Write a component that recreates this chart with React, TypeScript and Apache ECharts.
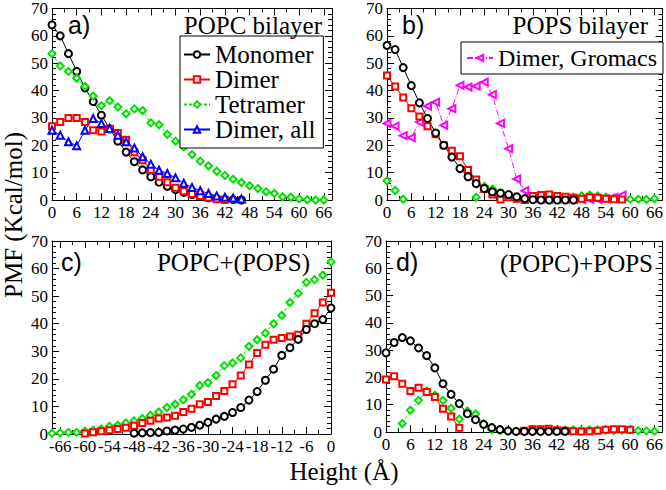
import React, { useEffect, useRef } from "react";
import * as echarts from "echarts";

// ---- data ----
const HEIGHTS = [0, 2, 4, 6, 8, 10, 12, 14, 16, 18, 20, 22, 24, 26, 28, 30, 32, 34, 36, 38, 40, 42, 44, 46, 48, 50, 52, 54, 56, 58, 60, 62, 64, 66, 68];
const C_HEIGHTS = [-68, -66, -64, -62, -60, -58, -56, -54, -52, -50, -48, -46, -44, -42, -40, -38, -36, -34, -32, -30, -28, -26, -24, -22, -20, -18, -16, -14, -12, -10, -8, -6, -4, -2, 0];
const X_TICKS = [0, 6, 12, 18, 24, 30, 36, 42, 48, 54, 60, 66];

// a) POPC bilayer (start at 0 Å)
const aMonomer = [64, 60, 53.5, 47, 41, 36, 31, 26, 21.5, 17.5, 14, 11, 8.5, 6.5, 5, 3.8, 2.8, 2, 1.3, 0.8, 0.5, 0.2, 0.1, 0];
const aDimer = [27, 28.5, 30, 30, 28.5, 25.5, 25, 26, 24.5, 22, 17.5, 14.5, 11, 8.5, 6.5, 4.5, 3.2, 2.2, 1.5, 0.8, 0.3, 0.1];
const aTetramer = [53.5, 49, 47, 44.5, 41.5, 38, 34.5, 36.3, 34, 31.5, 33.3, 32.7, 28.2, 27.5, 24, 21.5, 19.4, 16.6, 14.2, 12.5, 10.5, 9, 7.6, 6.4, 5.2, 4.2, 3, 2.4, 1.2, 1, 0.4, 0.1, 0, 0];
const aDimerAll = [25.5, 23.7, 21.3, 19.8, 25.5, 29.8, 28, 26.1, 23.7, 21.3, 19, 15.8, 13.1, 10.9, 9.7, 8.1, 6.1, 4.6, 3.4, 2.4, 1.5, 1, 0.7, 0.4];

// b) POPS bilayer (start at 0 Å)
const bMonomer = [56.5, 55, 48.4, 41.8, 35.5, 29.8, 24.5, 20, 15.7, 11.5, 8.5, 6, 4.2, 3, 2.5, 2, 1.2, 0.5, 0.1, 0, 0, 0, 0, 0];
const bDimer = [45.5, 41.5, 37.5, 33.5, 30.5, 27, 24, 20, 18, 16, 11, 7.5, 4, 2, 0.2, 1, 0.5, 0, 1.5, 1.8, 2, 1.5, 1.2, 0.8, 0.5, 1, 0.8, 0.5, 0.3, 0.2];
const bTetramer = [7, 3.5, 0.3, null, null, null, null, null, null, null, null, 1, 5, 4, 2.5, 1.5, 0.5, 0.3, 0.2, 0.5, 0.3, 0.2, 0.3, 1, 1.5, 1.8, 1.5, 1, 0.8, 0.5, 0.3, 0.3, 0.2, 0.5];
const bGromacs = [28, 27, 23.5, 22.8, 28.5, 34.3, 35.8, 27.3, 33.4, 41.9, 41.3, 41.6, 43.1, 38.5, 28, 18.8, 7.7, 3.4, 0.5, 0.3, 0.2, 0.2, 0.2, 0.2, 0.2, 0.2, 0.2, 0.5, 1, 1.8];

// c) POPC+(POPS) (all end at 0 Å)
const cMonomer = [0.3, 0.4, 0.5, 0.6, 1.1, 1.4, 1.8, 2.4, 3.2, 4.2, 5.4, 6.4, 7.8, 9.6, 12.3, 15.4, 19.5, 23.5, 28.5, 31.3, 34.3, 37.9, 40, 41.5, 45.7];
const cDimer = [0.2, 0.6, 1, 1.4, 1.8, 2.3, 3, 4, 4.8, 5.6, 6, 6.6, 8, 9.2, 10.8, 11.6, 13.8, 15.6, 18, 21.2, 25.2, 29.4, 32.4, 34.2, 34.8, 35.4, 36, 40, 43.8, 47.7, 51.2];
const cTetramer = [0.3, 0.4, 0.6, 0.6, 1, 1.4, 1.8, 2.8, 3.2, 4, 4.8, 5.6, 6.8, 8, 9.6, 10.8, 12.4, 14.4, 17.6, 18.6, 21.2, 24.8, 25.8, 27.6, 31.8, 34.2, 36.6, 40, 43, 47.7, 51, 55, 56, 57.6, 62.4];

// d) (POPC)+POPS (start at 0 Å)
const dMonomer = [29, 32.8, 34.6, 33.4, 30.8, 28, 23.5, 17.7, 13.8, 10.4, 6.7, 4.5, 2.8, 1.6, 0.9, 0.4, 0.2, 0.2, 0.2, 0.2, 0.2, 0.2, 0.2];
const dDimer = [19.2, 20.4, 17.7, 15, 16.2, 14.7, 12.8, 8.5, 5.7, 1.6, -3, null, null, null, null, null, null, 0.5, 1, 1, 1.2, 0.6, 0.5, 0.3, 0.2, 0.3, 0.5, 0.8, 1, 1, 0.8];
const dTetramer = [null, -1, 3.1, 8, 11.6, 15, 13.5, 11.6, 8.7, 4.7, 7.7, 6.6, 3, 0.9, 0.5, 0.3, 0.2, 0.2, 0.2, 0.3, 0.5, 0.6, 0.8, 0.8, 0.6, 0.8, 0.8, 0.6, 0.5, 0.6, 0.8, 0.5, 0.4, 0.3];

const SERIF = "Liberation Serif";
const SANS = "Liberation Sans";

const C_BLACK = "#000000";
const C_RED = "#ff0000";
const C_GREEN = "#00e000";
const C_BLUE = "#0000ff";
const C_MAG = "#ff00ff";

const fromZero = (ys: (number | null)[]) => ys.map((v, i) => [HEIGHTS[i], v]);
const toZero = (ys: (number | null)[]) => {
  const off = C_HEIGHTS.length - ys.length;
  // panel c uses an inverted axis of |height|
  return ys.map((v, i) => [-C_HEIGHTS[off + i], v]);
};

type Sty = { color: string; symbol: string; size: number; type: any; rotate?: number };
const STY: Record<string, Sty> = {
  Monomer: { color: C_BLACK, symbol: "emptyCircle", size: 7, type: "solid" },
  Dimer: { color: C_RED, symbol: "emptyRect", size: 6, type: "solid" },
  Tetramer: { color: C_GREEN, symbol: "emptyDiamond", size: 7, type: [3, 2] },
  "Dimer, all": { color: C_BLUE, symbol: "emptyTriangle", size: 7, type: "solid" },
  "Dimer, Gromacs": { color: C_MAG, symbol: "emptyTriangle", size: 7, type: [6, 2, 1, 2], rotate: 90 },
};

function mk(name: string, gi: number, data: any[]) {
  const s = STY[name];
  return {
    type: "line",
    name,
    xAxisIndex: gi,
    yAxisIndex: gi,
    data,
    symbol: s.symbol,
    symbolSize: s.size,
    symbolRotate: s.rotate || 0,
    showAllSymbol: true,
    connectNulls: false,
    clip: true,
    lineStyle: { color: s.color, width: 1, type: s.type },
    itemStyle: { color: s.color, borderColor: s.color, borderWidth: 0.8 },
    emphasis: { disabled: true },
  };
}

const GRIDS = [
  { left: 52, top: 8, width: 280, height: 192 },
  { left: 387, top: 8, width: 276, height: 192 },
  { left: 52, top: 241, width: 279, height: 193 },
  { left: 386, top: 241, width: 277, height: 191 },
];

export default function App() {
  const ref = useRef<HTMLDivElement>(null);
  useEffect(() => {
    if (!ref.current) return;
    const chart = echarts.init(ref.current, null, { renderer: "svg" });

    const xAxes: any[] = [];
    const yAxes: any[] = [];
    for (let pos = 0; pos < 2; pos++) {
      for (let i = 0; i < 4; i++) {
        xAxes.push({
          type: "value",
          gridIndex: i,
          position: pos === 0 ? "bottom" : "top",
          min: 0,
          max: 68,
          interval: 6,
          inverse: i === 2,
          axisLine: { show: true, onZero: false, lineStyle: { color: "#000", width: 1 } },
          axisTick: { show: true, inside: true, length: 7, lineStyle: { color: "#000" } },
          minorTick: { show: true, splitNumber: 2, length: 4, lineStyle: { color: "#000" } },
          splitLine: { show: false },
          axisLabel: {
            show: pos === 0,
            color: "#000",
            fontFamily: SERIF,
            fontSize: 17,
            margin: 4,
            showMaxLabel: false,
            formatter: (v: number) => {
              if (X_TICKS.indexOf(v) < 0) return "";
              if (i === 2) return v === 0 ? "0" : "-" + v;
              return String(v);
            },
          },
        });
        yAxes.push({
          type: "value",
          gridIndex: i,
          position: pos === 0 ? "left" : "right",
          min: 0,
          max: 70,
          interval: 10,
          axisLine: { show: true, onZero: false, lineStyle: { color: "#000", width: 1 } },
          axisTick: { show: true, inside: true, length: 7, lineStyle: { color: "#000" } },
          minorTick: { show: true, splitNumber: 5, length: 4, lineStyle: { color: "#000" } },
          splitLine: { show: false },
          axisLabel: { show: pos === 0, color: "#000", fontFamily: SERIF, fontSize: 17, margin: 4 },
        });
      }
    }

    const series: any[] = [
      mk("Monomer", 0, fromZero(aMonomer)),
      mk("Dimer", 0, fromZero(aDimer)),
      mk("Tetramer", 0, fromZero(aTetramer)),
      mk("Dimer, all", 0, fromZero(aDimerAll)),
      mk("Tetramer", 1, fromZero(bTetramer)),
      mk("Dimer, Gromacs", 1, fromZero(bGromacs)),
      mk("Dimer", 1, fromZero(bDimer)),
      mk("Monomer", 1, fromZero(bMonomer)),
      mk("Tetramer", 2, toZero(cTetramer)),
      mk("Dimer", 2, toZero(cDimer)),
      mk("Monomer", 2, toZero(cMonomer)),
      mk("Tetramer", 3, fromZero(dTetramer)),
      mk("Dimer", 3, fromZero(dDimer)),
      mk("Monomer", 3, fromZero(dMonomer)),
    ];

    const txt = (text: string, x: number, y: number, size: number, align: string, family = SERIF, rotation = 0) => ({
      type: "text",
      x,
      y,
      rotation,
      z: 100,
      style: {
        text,
        fill: "#000",
        fontSize: size,
        fontFamily: family,
        align,
        verticalAlign: "middle",
      },
    });

    const legendCommon = {
      orient: "vertical",
      backgroundColor: "#fff",
      borderColor: "#000",
      borderWidth: 1,
      borderRadius: 0,
      itemGap: 0,
      itemWidth: 26,
      itemHeight: 8,
      selectedMode: false,
      textStyle: { color: "#000", fontFamily: SERIF, fontSize: 25, lineHeight: 23 },
    };

    chart.setOption({
      animation: false,
      backgroundColor: "#fff",
      textStyle: { fontFamily: SERIF },
      grid: GRIDS.map((g) => ({ ...g, show: false })),
      xAxis: xAxes,
      yAxis: yAxes,
      legend: [
        {
          ...legendCommon,
          left: 180,
          top: 36,
          padding: [6, 8, 6, 3],
          data: ["Monomer", "Dimer", "Tetramer", "Dimer, all"],
        },
        {
          ...legendCommon,
          left: 461,
          top: 42,
          padding: [4, 6, 4, 5],
          textStyle: { ...legendCommon.textStyle, fontSize: 24 },
          data: ["Dimer, Gromacs"],
        },
      ],
      series,
      graphic: [
        txt("a)", 68, 25, 25, "left", SANS),
        txt("POPC bilayer", 322, 25, 25, "right"),
        txt("b)", 402, 25, 25, "left", SANS),
        txt("POPS bilayer", 648, 25, 25, "right"),
        txt("c)", 61, 262, 25, "left", SANS),
        txt("POPC+(POPS)", 310, 262, 25, "right"),
        txt("d)", 396, 262, 25, "left", SANS),
        txt("(POPC)+POPS", 653, 263, 25, "right"),
        txt("PMF (Kcal/mol)", 13, 215, 25, "center", SERIF, Math.PI / 2),
        txt("Height (Å)", 344, 471, 25, "center"),
      ],
    });
    return () => chart.dispose();
  }, []);
  return <div ref={ref} style={{ position: "fixed", left: 0, top: 0, width: 666, height: 490 }} />;
}
